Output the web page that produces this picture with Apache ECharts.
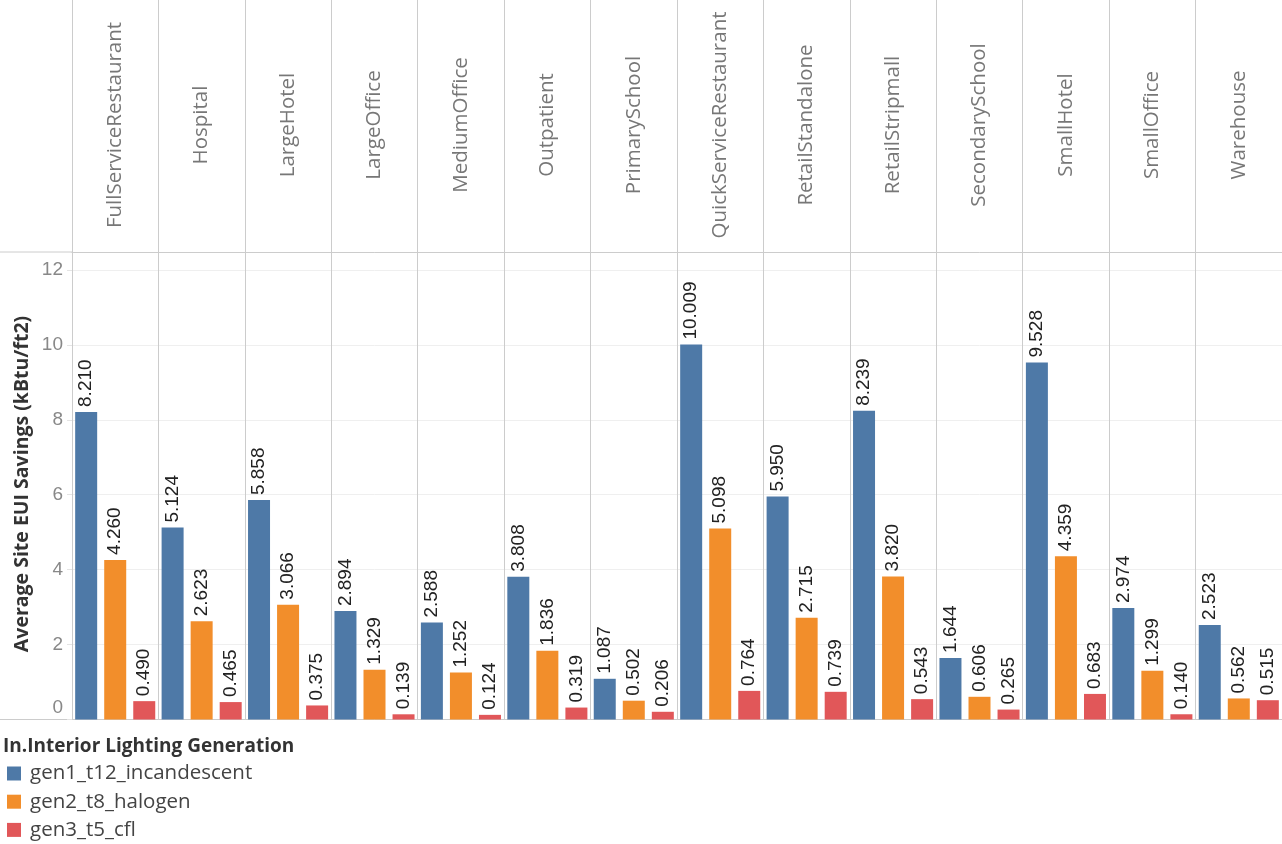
<!DOCTYPE html>
<html>
<head>
<meta charset="utf-8">
<script src="https://cdn.jsdelivr.net/npm/echarts@6/dist/echarts.min.js"></script>
<style>
html,body{margin:0;padding:0;background:#fff;}
#chart{width:1282px;height:844px;}
</style>
</head>
<body>
<div id="chart"></div>
<script>
const categories = ["FullServiceRestaurant","Hospital","LargeHotel","LargeOffice","MediumOffice","Outpatient","PrimarySchool","QuickServiceRestaurant","RetailStandalone","RetailStripmall","SecondarySchool","SmallHotel","SmallOffice","Warehouse"];
const gen1 = [8.210,5.124,5.858,2.894,2.588,3.808,1.087,10.009,5.950,8.239,1.644,9.528,2.974,2.523];
const gen2 = [4.260,2.623,3.066,1.329,1.252,1.836,0.502,5.098,2.715,3.820,0.606,4.359,1.299,0.562];
const gen3 = [0.490,0.465,0.375,0.139,0.124,0.319,0.206,0.764,0.739,0.543,0.265,0.683,0.140,0.515];
const seriesNames = ["gen1_t12_incandescent","gen2_t8_halogen","gen3_t5_cfl"];
const colors = ["#4e79a7","#f28e2b","#e15759"];
const yTicks = [0,2,4,6,8,10,12];
const yTitle = 'Average Site EUI Savings (kBtu/ft2)';
const legendTitle = 'In.Interior Lighting Generation';

const chart = echarts.init(document.getElementById('chart'));
const lineCol = '#cccccc';
const mkSeries = (name, data, color) => ({
  name, type:'bar', xAxisIndex:1, yAxisIndex:1, data,
  barWidth:22, barGap:'32%',
  itemStyle:{color},
  label:{show:true, position:'top', rotate:90, align:'left', verticalAlign:'middle', distance:5,
    fontFamily:'Liberation Sans', fontSize:19, color:'#222',
    formatter:p=>p.value.toFixed(3)}
});
chart.setOption({
  animation:false,
  color:colors,
  title:{text:legendTitle, left:3, top:737, padding:0,
    textStyle:{fontFamily:'Open Sans', fontWeight:'bold', fontSize:19, color:'#333'}},
  legend:{orient:'vertical', left:7, top:763, height:120, padding:0, itemWidth:14, itemHeight:14, itemGap:7.2,
    icon:'rect', data:seriesNames,
    textStyle:{fontFamily:'Open Sans', fontSize:20.5, color:'#444', padding:[0,0,0,4]}},
  grid:[
    {left:72, right:0, top:0, height:252},
    {left:72, right:0, top:252, bottom:124.5}
  ],
  xAxis:[
    {gridIndex:0, type:'category', data:categories, position:'bottom',
     axisLine:{show:true, lineStyle:{color:lineCol}}, axisTick:{show:false},
     splitLine:{show:true, interval:0, lineStyle:{color:lineCol}},
     axisLabel:{inside:true, rotate:90, align:'center', verticalAlign:'middle', margin:127,
       interval:0, fontFamily:'Open Sans', fontSize:20.5, color:'#777'}},
    {gridIndex:1, type:'category', data:categories,
     axisLine:{show:true, lineStyle:{color:lineCol}}, axisTick:{show:false},
     axisLabel:{show:false, interval:0}, splitLine:{show:true, interval:0, lineStyle:{color:lineCol}}}
  ],
  yAxis:[
    {gridIndex:0, type:'value', show:false, min:0, max:1},
    {gridIndex:1, type:'value', min:0, max:12.48, interval:2,
     axisLine:{show:true, lineStyle:{color:lineCol}},
     axisTick:{show:true, length:5, lineStyle:{color:'#e4e4e4'}},
     axisLabel:{showMaxLabel:false, margin:9, fontFamily:'Liberation Sans', fontSize:19, color:'#888',
       formatter:v=> v===0 ? '{z|0}\n{e|}' : String(v),
       rich:{z:{fontFamily:'Liberation Sans', fontSize:19, color:'#888', lineHeight:19}, e:{lineHeight:24}}},
     splitLine:{show:true, lineStyle:{color:'#efefef'}}}
  ],
  graphic:[
    {type:'line', shape:{x1:0,y1:252,x2:72,y2:252}, style:{stroke:lineCol, lineWidth:1}},
    {type:'line', shape:{x1:0,y1:719.5,x2:72,y2:719.5}, style:{stroke:lineCol, lineWidth:1}},
    {type:'text', x:22, y:484, rotation:Math.PI/2,
     style:{text:yTitle, align:'center', verticalAlign:'middle', fontFamily:'Open Sans', fontWeight:'bold', fontSize:19.5, fill:'#333'}}
  ],
  series:[mkSeries(seriesNames[0],gen1,colors[0]), mkSeries(seriesNames[1],gen2,colors[1]), mkSeries(seriesNames[2],gen3,colors[2])]
});
</script>
</body>
</html>
